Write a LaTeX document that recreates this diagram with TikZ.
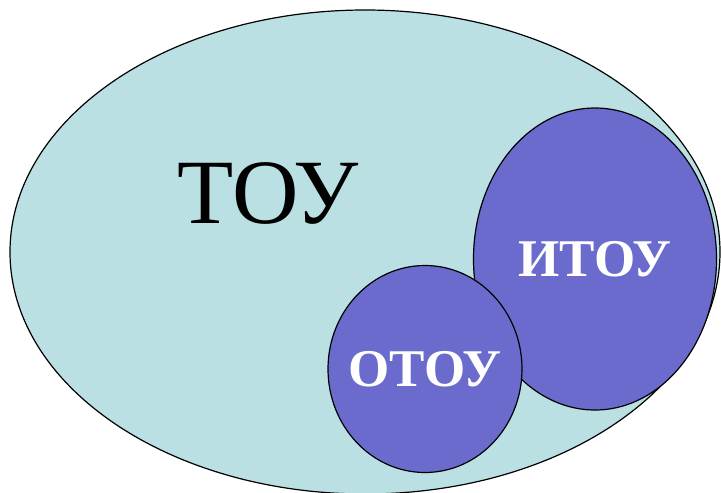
\documentclass[tikz,border=0pt]{standalone}
\usepackage{fontspec}
\setmainfont{Liberation Serif}
\usetikzlibrary{shapes.geometric, positioning}

\definecolor{toucyan}{HTML}{BAE0E3}
\definecolor{toupurple}{HTML}{6B6BCD}

\begin{document}
\begin{tikzpicture}[x=1pt, y=-1pt,
        set/.style={draw, line width=1.2pt, ellipse, inner sep=0pt},
        subset/.style={set, inner sep=-30pt, fill=toupurple, text=white, font=\fontsize{53}{53}\selectfont\bfseries}]
        \useasboundingbox (0,0) rectangle (721,493);
        \node[set, fill=toucyan, minimum width=710pt, minimum height=484pt] (tou) at (365,252) {};
        \node[font=\fontsize{92}{92}\selectfont] (toulabel) at (268,193) {ТОУ};
        \node[subset, minimum width=243pt, minimum height=302pt] (itou) at (595,259) {ИТОУ};
        \node[subset, minimum width=194pt, minimum height=207pt] (otou) at (425,369) {ОТОУ};
    \end{tikzpicture}
\end{document}
